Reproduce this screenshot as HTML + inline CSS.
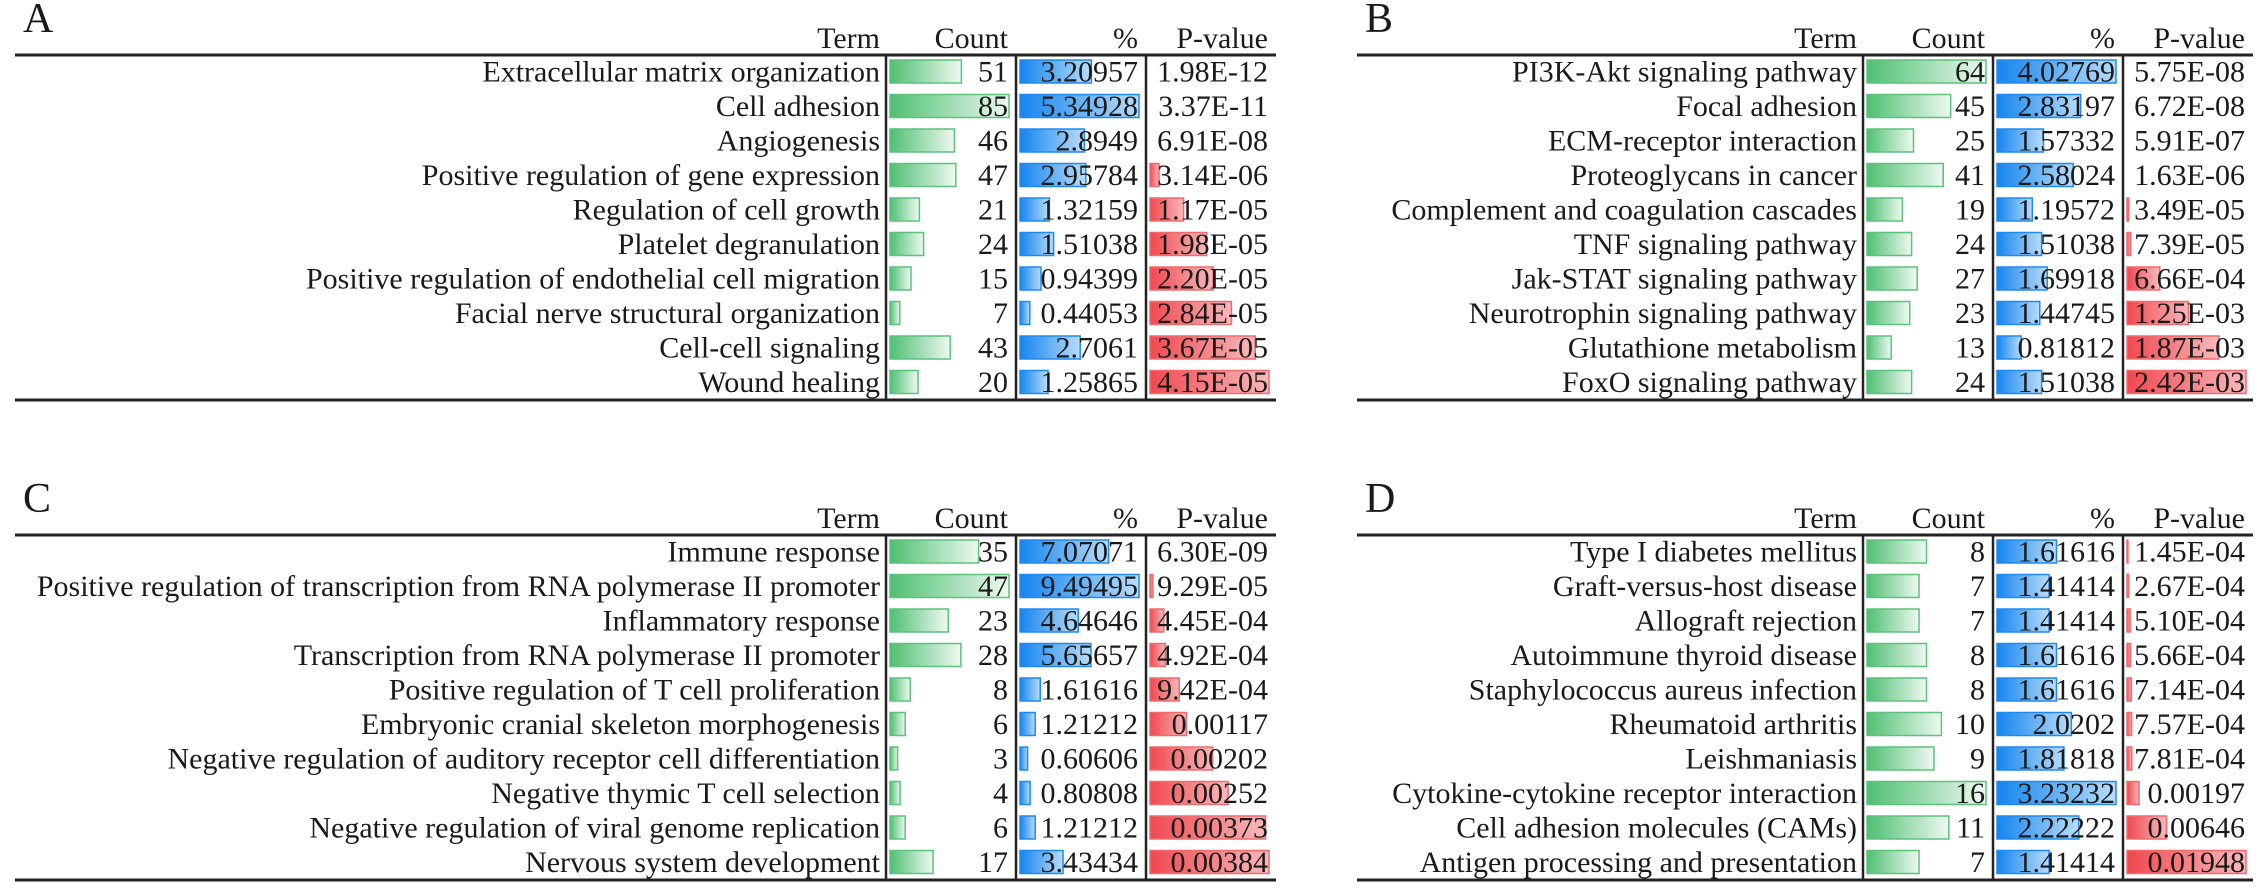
<!DOCTYPE html>
<html><head><meta charset="utf-8">
<style>
html,body{margin:0;padding:0;background:#fff;}
svg{display:block;}
text{font-family:"Liberation Serif","Times New Roman",serif;fill:#1a1a1a;}
</style></head>
<body>
<svg id="fig" width="2268" height="894" viewBox="0 0 2268 894" xmlns="http://www.w3.org/2000/svg">
<defs>
<linearGradient id="gG" x1="0" x2="1" y1="0" y2="0"><stop offset="0" stop-color="#4fbf72"/><stop offset="1" stop-color="#eef9f1"/></linearGradient>
<linearGradient id="gB" x1="0" x2="1" y1="0" y2="0"><stop offset="0" stop-color="#1485ee"/><stop offset="1" stop-color="#b9dcfb"/></linearGradient>
<linearGradient id="gR" x1="0" x2="1" y1="0" y2="0"><stop offset="0" stop-color="#f0484f"/><stop offset="1" stop-color="#f9b9bb"/></linearGradient>
</defs>
</svg>
<script>
// Panel A
const termsA = ["Extracellular matrix organization","Cell adhesion","Angiogenesis","Positive regulation of gene expression","Regulation of cell growth","Platelet degranulation","Positive regulation of endothelial cell migration","Facial nerve structural organization","Cell-cell signaling","Wound healing"];
const countsA = [51,85,46,47,21,24,15,7,43,20];
const pctA = ["3.20957","5.34928","2.8949","2.95784","1.32159","1.51038","0.94399","0.44053","2.7061","1.25865"];
const pvalA = ["1.98E-12","3.37E-11","6.91E-08","3.14E-06","1.17E-05","1.98E-05","2.20E-05","2.84E-05","3.67E-05","4.15E-05"];
// Panel B
const termsB = ["PI3K-Akt signaling pathway","Focal adhesion","ECM-receptor interaction","Proteoglycans in cancer","Complement and coagulation cascades","TNF signaling pathway","Jak-STAT signaling pathway","Neurotrophin signaling pathway","Glutathione metabolism","FoxO signaling pathway"];
const countsB = [64,45,25,41,19,24,27,23,13,24];
const pctB = ["4.02769","2.83197","1.57332","2.58024","1.19572","1.51038","1.69918","1.44745","0.81812","1.51038"];
const pvalB = ["5.75E-08","6.72E-08","5.91E-07","1.63E-06","3.49E-05","7.39E-05","6.66E-04","1.25E-03","1.87E-03","2.42E-03"];
// Panel C
const termsC = ["Immune response","Positive regulation of transcription from RNA polymerase II promoter","Inflammatory response","Transcription from RNA polymerase II promoter","Positive regulation of T cell proliferation","Embryonic cranial skeleton morphogenesis","Negative regulation of auditory receptor cell differentiation","Negative thymic T cell selection","Negative regulation of viral genome replication","Nervous system development"];
const countsC = [35,47,23,28,8,6,3,4,6,17];
const pctC = ["7.07071","9.49495","4.64646","5.65657","1.61616","1.21212","0.60606","0.80808","1.21212","3.43434"];
const pvalC = ["6.30E-09","9.29E-05","4.45E-04","4.92E-04","9.42E-04","0.00117","0.00202","0.00252","0.00373","0.00384"];
// Panel D
const termsD = ["Type I diabetes mellitus","Graft-versus-host disease","Allograft rejection","Autoimmune thyroid disease","Staphylococcus aureus infection","Rheumatoid arthritis","Leishmaniasis","Cytokine-cytokine receptor interaction","Cell adhesion molecules (CAMs)","Antigen processing and presentation"];
const countsD = [8,7,7,8,8,10,9,16,11,7];
const pctD = ["1.61616","1.41414","1.41414","1.61616","1.61616","2.0202","1.81818","3.23232","2.22222","1.41414"];
const pvalD = ["1.45E-04","2.67E-04","5.10E-04","5.66E-04","7.14E-04","7.57E-04","7.81E-04","0.00197","0.00646","0.01948"];

const headers = ["Term","Count","%","P-value"];
const NS = "http://www.w3.org/2000/svg";
const svg = document.getElementById('fig');

function mk(tag, attrs, parent){
  const e = document.createElementNS(NS, tag);
  for (const k in attrs) e.setAttribute(k, attrs[k]);
  parent.appendChild(e);
  return e;
}

function panel(letter, terms, counts, pcts, pvals, left, v1, top){
  const g = mk('g', {}, svg);
  
  
  const colW = 130;
  const v2 = v1 + colW, v3 = v2 + colW, right = v3 + colW;
  const rowH = 34.5, barH = 23, fs = 30;
  const bottom = top + 345;

  const lt = mk('text', {x: left + 8, y: top - 23, 'font-size': 42}, g);
  lt.textContent = letter;
  
  

  const hx = [v1 - 6, v2 - 8, v3 - 8, right - 8];
  headers.forEach((h, i) => {
    const t = mk('text', {x: hx[i], y: top - 7, 'font-size': fs, 'text-anchor': 'end'}, g);
    t.textContent = h;
    
    
  });

  const l1 = mk('line', {x1: left, x2: right, y1: top, y2: top, stroke: '#222', 'stroke-width': 3}, g);
  
  
  const l2 = mk('line', {x1: left, x2: right, y1: bottom, y2: bottom, stroke: '#222', 'stroke-width': 3}, g);
  
  
  [v1, v2, v3].forEach(x => {
    const vl = mk('line', {x1: x, x2: x, y1: top, y2: bottom, stroke: '#222', 'stroke-width': 2.5}, g);
    
    
  });

  const maxC = Math.max(...counts);
  const pctNums = pcts.map(Number);
  const maxP = Math.max(...pctNums);
  const pNums = pvals.map(Number);
  const maxPv = Math.max(...pNums);
  const barMax = colW - 11;
  const xC = v => v / maxC * barMax;
  const xP = v => v / maxP * barMax;
  const xV = v => v / maxPv * barMax;

  terms.forEach((term, i) => {
    const yTop = top + 5 + i * rowH;
    const yText = yTop + barH / 2 + 10;

    const tt = mk('text', {x: v1 - 6, y: yText, 'font-size': fs, 'text-anchor': 'end'}, g);
    tt.textContent = term;
    
    

    const b1 = mk('rect', {x: v1 + 4, y: yTop, width: Math.max(xC(counts[i]), 2), height: barH, fill: 'url(#gG)', stroke: '#5cc27e', 'stroke-width': 1.5}, g);
    
    
    const t1 = mk('text', {x: v2 - 8, y: yText, 'font-size': fs, 'text-anchor': 'end'}, g);
    t1.textContent = counts[i];
    
    

    const b2 = mk('rect', {x: v2 + 4, y: yTop, width: Math.max(xP(pctNums[i]), 2), height: barH, fill: 'url(#gB)', stroke: '#1f8bf0', 'stroke-width': 1.5}, g);
    
    
    const t2 = mk('text', {x: v3 - 8, y: yText, 'font-size': fs, 'text-anchor': 'end'}, g);
    t2.textContent = pcts[i];
    
    

    const w3 = xV(pNums[i]);
    if (w3 >= 0.8) {
      const b3 = mk('rect', {x: v3 + 4, y: yTop, width: w3, height: barH, fill: 'url(#gR)', stroke: '#f06a6f', 'stroke-width': 1.5}, g);
      
      
    }
    const t3 = mk('text', {x: right - 8, y: yText, 'font-size': fs, 'text-anchor': 'end'}, g);
    t3.textContent = pvals[i];
    
    
  });
}

panel('A', termsA, countsA, pctA, pvalA, 15, 886, 55);
panel('B', termsB, countsB, pctB, pvalB, 1357, 1863, 55);
panel('C', termsC, countsC, pctC, pvalC, 15, 886, 535);
panel('D', termsD, countsD, pctD, pvalD, 1357, 1863, 535);
</script>
</body></html>
